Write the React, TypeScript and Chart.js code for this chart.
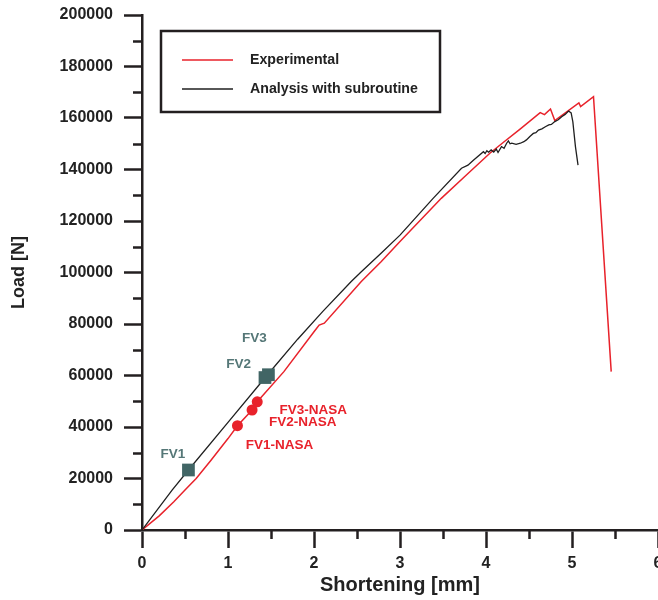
import React, { useEffect, useRef } from 'react';
import { Chart, registerables } from 'chart.js';

Chart.register(...registerables);

// ---- data ----
const expLabel = 'Experimental';
const expX = [0, 0.2, 0.37, 0.5, 0.63, 0.8, 1.0, 1.11, 1.28, 1.34, 1.65, 2.0, 2.06, 2.12, 2.55, 2.78, 3.0, 3.48, 3.75, 4.045, 4.2, 4.4, 4.63, 4.68, 4.75, 4.8, 5.08, 5.1, 5.25, 5.456];
const expY = [0, 5500, 11000, 15500, 20000, 27000, 35500, 40500, 46600, 49800, 61500, 77000, 79600, 80300, 96500, 104200, 112000, 128800, 137200, 146300, 150500, 155800, 162100, 161300, 163500, 159000, 165900, 164400, 168300, 61500];

const anaLabel = 'Analysis with subroutine';
const anaX = [0, 0.35, 0.54, 1.0, 1.44, 1.81, 2.1, 2.43, 2.55, 2.78, 3.0, 3.385, 3.715, 3.79, 3.85, 3.97, 3.99, 4.01, 4.03, 4.06, 4.09, 4.12, 4.14, 4.18, 4.21, 4.24, 4.26, 4.28, 4.3, 4.35, 4.4, 4.44, 4.47, 4.51, 4.55, 4.58, 4.61, 4.65, 4.69, 4.73, 4.76, 4.8, 4.84, 4.88, 4.92, 4.96, 4.99, 5.01, 5.02, 5.04, 5.07];
const anaY = [0, 15500, 23300, 41800, 59500, 74100, 84800, 96400, 100300, 107500, 114500, 128800, 140500, 141700, 143500, 146900, 146200, 147300, 146700, 147600, 146800, 147900, 146600, 148900, 148200, 150200, 151100, 150000, 150200, 149800, 150200, 150800, 151500, 152800, 154000, 154300, 155300, 155800, 156600, 157300, 157500, 158600, 159300, 160500, 161400, 162700, 162000, 158500, 155300, 148900, 141700];

const fvNames = ['FV1', 'FV2', 'FV3'];
const fvX = [0.54, 1.43, 1.47];
const fvY = [23300, 59200, 60300];
const fvTextX = [0.36, 1.125, 1.308];
const fvTextY = [29500, 64350, 74560];

const nasaNames = ['FV1-NASA', 'FV2-NASA', 'FV3-NASA'];
const nasaX = [1.11, 1.28, 1.34];
const nasaY = [40500, 46600, 49800];
const nasaTextX = [1.598, 1.869, 1.992];
const nasaTextY = [33000, 41830, 46600];

const xTickValues = [0, 1, 2, 3, 4, 5, 6];
const yTickValues = [0, 20000, 40000, 60000, 80000, 100000, 120000, 140000, 160000, 180000, 200000];
const xMinorTicks = [0.5, 1.5, 2.5, 3.5, 4.5, 5.5];
const yMinorTicks = [10000, 30000, 50000, 70000, 90000, 110000, 130000, 150000, 170000, 190000];

const RED = '#e8222b';
const BLACK = '#1f1f1f';
const SLATE = '#416565';
const SLATE_TEXT = '#557777';
const AXIS = '#231f20';
const FONT = "'Liberation Sans', Arial, Helvetica, sans-serif";

const toPts = (xs: number[], ys: number[]) => xs.map((x, i) => ({ x, y: ys[i] }));

const extrasPlugin = {
  id: 'extras',
  afterDraw(chart: any) {
    const ctx = chart.ctx as CanvasRenderingContext2D;
    const xs = chart.scales.x;
    const ys = chart.scales.y;
    const area = chart.chartArea;
    ctx.save();
    // minor ticks
    ctx.strokeStyle = AXIS;
    ctx.lineWidth = 2.5;
    ctx.beginPath();
    for (const v of yMinorTicks) {
      const py = Math.round(ys.getPixelForValue(v)) + 0.5;
      ctx.moveTo(area.left - 9, py);
      ctx.lineTo(area.left, py);
    }
    for (const v of xMinorTicks) {
      const px = Math.round(xs.getPixelForValue(v)) + 0.5;
      ctx.moveTo(px, area.bottom);
      ctx.lineTo(px, area.bottom + 9);
    }
    ctx.stroke();

    // annotations
    ctx.font = `bold 13.5px ${FONT}`;
    ctx.textAlign = 'center';
    ctx.textBaseline = 'middle';
    ctx.fillStyle = SLATE_TEXT;
    fvNames.forEach((t, i) => {
      ctx.fillText(t, xs.getPixelForValue(fvTextX[i]), ys.getPixelForValue(fvTextY[i]));
    });
    ctx.fillStyle = RED;
    nasaNames.forEach((t, i) => {
      ctx.fillText(t, xs.getPixelForValue(nasaTextX[i]), ys.getPixelForValue(nasaTextY[i]));
    });

    // legend box
    const bx = 161, by = 31, bw = 279, bh = 81;
    ctx.fillStyle = '#ffffff';
    ctx.fillRect(bx, by, bw, bh);
    ctx.strokeStyle = AXIS;
    ctx.lineWidth = 2.5;
    ctx.strokeRect(bx, by, bw, bh);
    const items = [
      { label: expLabel, color: RED, y: 60 },
      { label: anaLabel, color: BLACK, y: 89 },
    ];
    ctx.textAlign = 'left';
    ctx.font = `bold 14.2px ${FONT}`;
    for (const it of items) {
      ctx.strokeStyle = it.color;
      ctx.lineWidth = 1.5;
      ctx.beginPath();
      ctx.moveTo(182, it.y);
      ctx.lineTo(233, it.y);
      ctx.stroke();
      ctx.fillStyle = '#222';
      ctx.fillText(it.label, 250, it.y);
    }
    ctx.restore();
  },
};

export default function App() {
  const ref = useRef<HTMLCanvasElement | null>(null);
  useEffect(() => {
    if (!ref.current) return;
    const chart = new Chart(ref.current, {
      type: 'scatter',
      data: {
        datasets: [
          {
            label: 'FV',
            data: toPts(fvX, fvY),
            pointStyle: 'rect',
            pointRadius: 9,
            backgroundColor: SLATE,
            borderColor: SLATE,
            borderWidth: 0,
            showLine: false,
          },
          {
            label: 'NASA',
            data: toPts(nasaX, nasaY),
            pointStyle: 'circle',
            pointRadius: 5.5,
            backgroundColor: RED,
            borderColor: RED,
            borderWidth: 0,
            showLine: false,
          },
          {
            label: anaLabel,
            data: toPts(anaX, anaY),
            showLine: true,
            borderColor: BLACK,
            borderWidth: 1.3,
            pointRadius: 0,
            tension: 0,
          },
          {
            label: expLabel,
            data: toPts(expX, expY),
            showLine: true,
            borderColor: RED,
            borderWidth: 1.5,
            pointRadius: 0,
            tension: 0,
          },
        ] as any,
      },
      options: {
        animation: false,
        responsive: false,
        layout: { padding: { left: 0, top: 15, right: 24, bottom: 3 } },
        plugins: { legend: { display: false }, tooltip: { enabled: false } },
        scales: {
          x: {
            type: 'linear',
            min: 0,
            max: 6,
            afterBuildTicks: (s: any) => { s.ticks = xTickValues.map((v) => ({ value: v })); },
            afterFit: (s: any) => { s.height = 67; s.paddingRight = 0; s.paddingLeft = 0; },
            ticks: {
              color: '#222',
              font: { family: FONT, size: 16, weight: 'bold' },
              padding: 6,
              callback: (v: any) => String(v),
            },
            grid: { display: true, drawOnChartArea: false, drawTicks: true, tickLength: 18, tickWidth: 2.5, tickColor: AXIS, color: AXIS },
            border: { display: true, width: 2.5, color: AXIS },
            title: {
              display: true,
              text: 'Shortening [mm]',
              color: '#222',
              font: { family: FONT, size: 20, weight: 'bold' },
              padding: { top: 0, bottom: 0 },
            },
          },
          y: {
            type: 'linear',
            min: 0,
            max: 200000,
            afterBuildTicks: (s: any) => { s.ticks = yTickValues.map((v) => ({ value: v })); },
            afterFit: (s: any) => { s.width = 142; s.paddingTop = 0; s.paddingBottom = 0; },
            ticks: {
              color: '#222',
              font: { family: FONT, size: 16, weight: 'bold' },
              padding: 11,
              callback: (v: any) => String(v),
            },
            grid: { display: true, drawOnChartArea: false, drawTicks: true, tickLength: 18, tickWidth: 2.5, tickColor: AXIS, color: AXIS },
            border: { display: true, width: 2.5, color: AXIS },
            title: {
              display: true,
              text: 'Load [N]',
              color: '#222',
              font: { family: FONT, size: 18, weight: 'bold' },
              padding: { top: 8, bottom: 0 },
            },
          },
        },
      } as any,
      plugins: [extrasPlugin],
    });
    return () => chart.destroy();
  }, []);

  return (
    <div style={{ position: 'fixed', left: 0, top: 0, width: 658, height: 600, overflow: 'hidden', background: '#fff' }}>
      <canvas ref={ref} width={682} height={600} style={{ display: 'block', width: 682, height: 600 }} />
    </div>
  );
}
